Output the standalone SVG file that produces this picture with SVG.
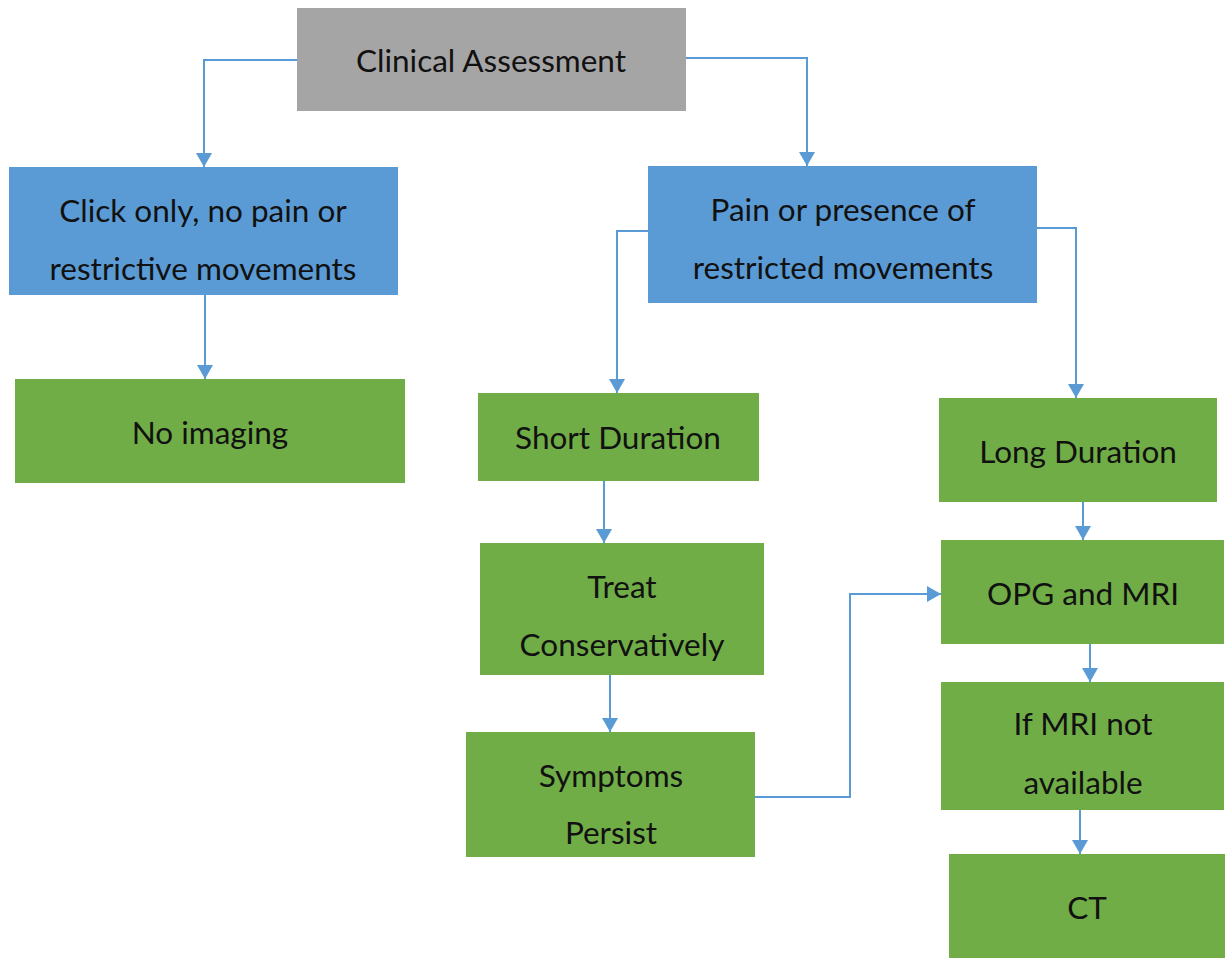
<svg xmlns="http://www.w3.org/2000/svg" width="1225" height="958" viewBox="0 0 1225 958">
  <style>
    .gray { fill: #A5A5A5; }
    .blue { fill: #5B9BD5; }
    .green { fill: #70AD47; }
    text { font-family: Lato, "Open Sans", "Liberation Sans", sans-serif; font-size: 31.5px; fill: #111; text-anchor: middle; dominant-baseline: central; }
    .conn { fill: none; stroke: #5B9BD5; stroke-width: 2; marker-end: url(#arrow); }
  </style>
  <defs>
    <!-- filled triangular arrowhead, tip at the end of the path -->
    <marker id="arrow" viewBox="0 0 14 16" refX="14" refY="8" markerWidth="14" markerHeight="16" markerUnits="userSpaceOnUse" orient="auto">
      <path d="M0,0 L14,8 L0,16 z" fill="#5B9BD5"/>
    </marker>
  </defs>

  <g id="connectors">
    <path class="conn" d="M297,60 H204 V167"/>
    <path class="conn" d="M686,58 H807 V166"/>
    <path class="conn" d="M205,295 V379"/>
    <path class="conn" d="M648,231 H617 V393"/>
    <path class="conn" d="M1037,228 H1076 V398"/>
    <path class="conn" d="M604,481 V543"/>
    <path class="conn" d="M1083,502 V540"/>
    <path class="conn" d="M610,675 V732"/>
    <path class="conn" d="M755,797 H850 V594 H941"/>
    <path class="conn" d="M1090,644 V682"/>
    <path class="conn" d="M1080,810 V854"/>
  </g>

  <g id="clinical-assessment">
    <rect class="gray" x="297" y="8" width="389" height="103"/>
    <text x="491" y="60">Clinical Assessment</text>
  </g>
  <g id="click-only">
    <rect class="blue" x="9" y="167" width="389" height="128"/>
    <text x="203" y="210">Click only, no pain or</text>
    <text x="203" y="268">restrictive movements</text>
  </g>
  <g id="pain-restricted">
    <rect class="blue" x="648" y="166" width="389" height="137"/>
    <text x="843" y="209">Pain or presence of</text>
    <text x="843" y="267">restricted movements</text>
  </g>
  <g id="no-imaging">
    <rect class="green" x="15" y="379" width="390" height="104"/>
    <text x="210" y="432">No imaging</text>
  </g>
  <g id="short-duration">
    <rect class="green" x="478" y="393" width="281" height="88"/>
    <text x="618" y="437">Short Duration</text>
  </g>
  <g id="long-duration">
    <rect class="green" x="939" y="398" width="278" height="104"/>
    <text x="1078" y="451">Long Duration</text>
  </g>
  <g id="treat-conservatively">
    <rect class="green" x="480" y="543" width="284" height="132"/>
    <text x="622" y="586">Treat</text>
    <text x="622" y="644">Conservatively</text>
  </g>
  <g id="opg-mri">
    <rect class="green" x="941" y="540" width="283" height="104"/>
    <text x="1083" y="593">OPG and MRI</text>
  </g>
  <g id="symptoms-persist">
    <rect class="green" x="466" y="732" width="289" height="125"/>
    <text x="611" y="775">Symptoms</text>
    <text x="611" y="832">Persist</text>
  </g>
  <g id="mri-not-available">
    <rect class="green" x="941" y="682" width="283" height="128"/>
    <text x="1083" y="723">If MRI not</text>
    <text x="1083" y="782">available</text>
  </g>
  <g id="ct">
    <rect class="green" x="949" y="854" width="276" height="104"/>
    <text x="1087" y="907">CT</text>
  </g>
</svg>
